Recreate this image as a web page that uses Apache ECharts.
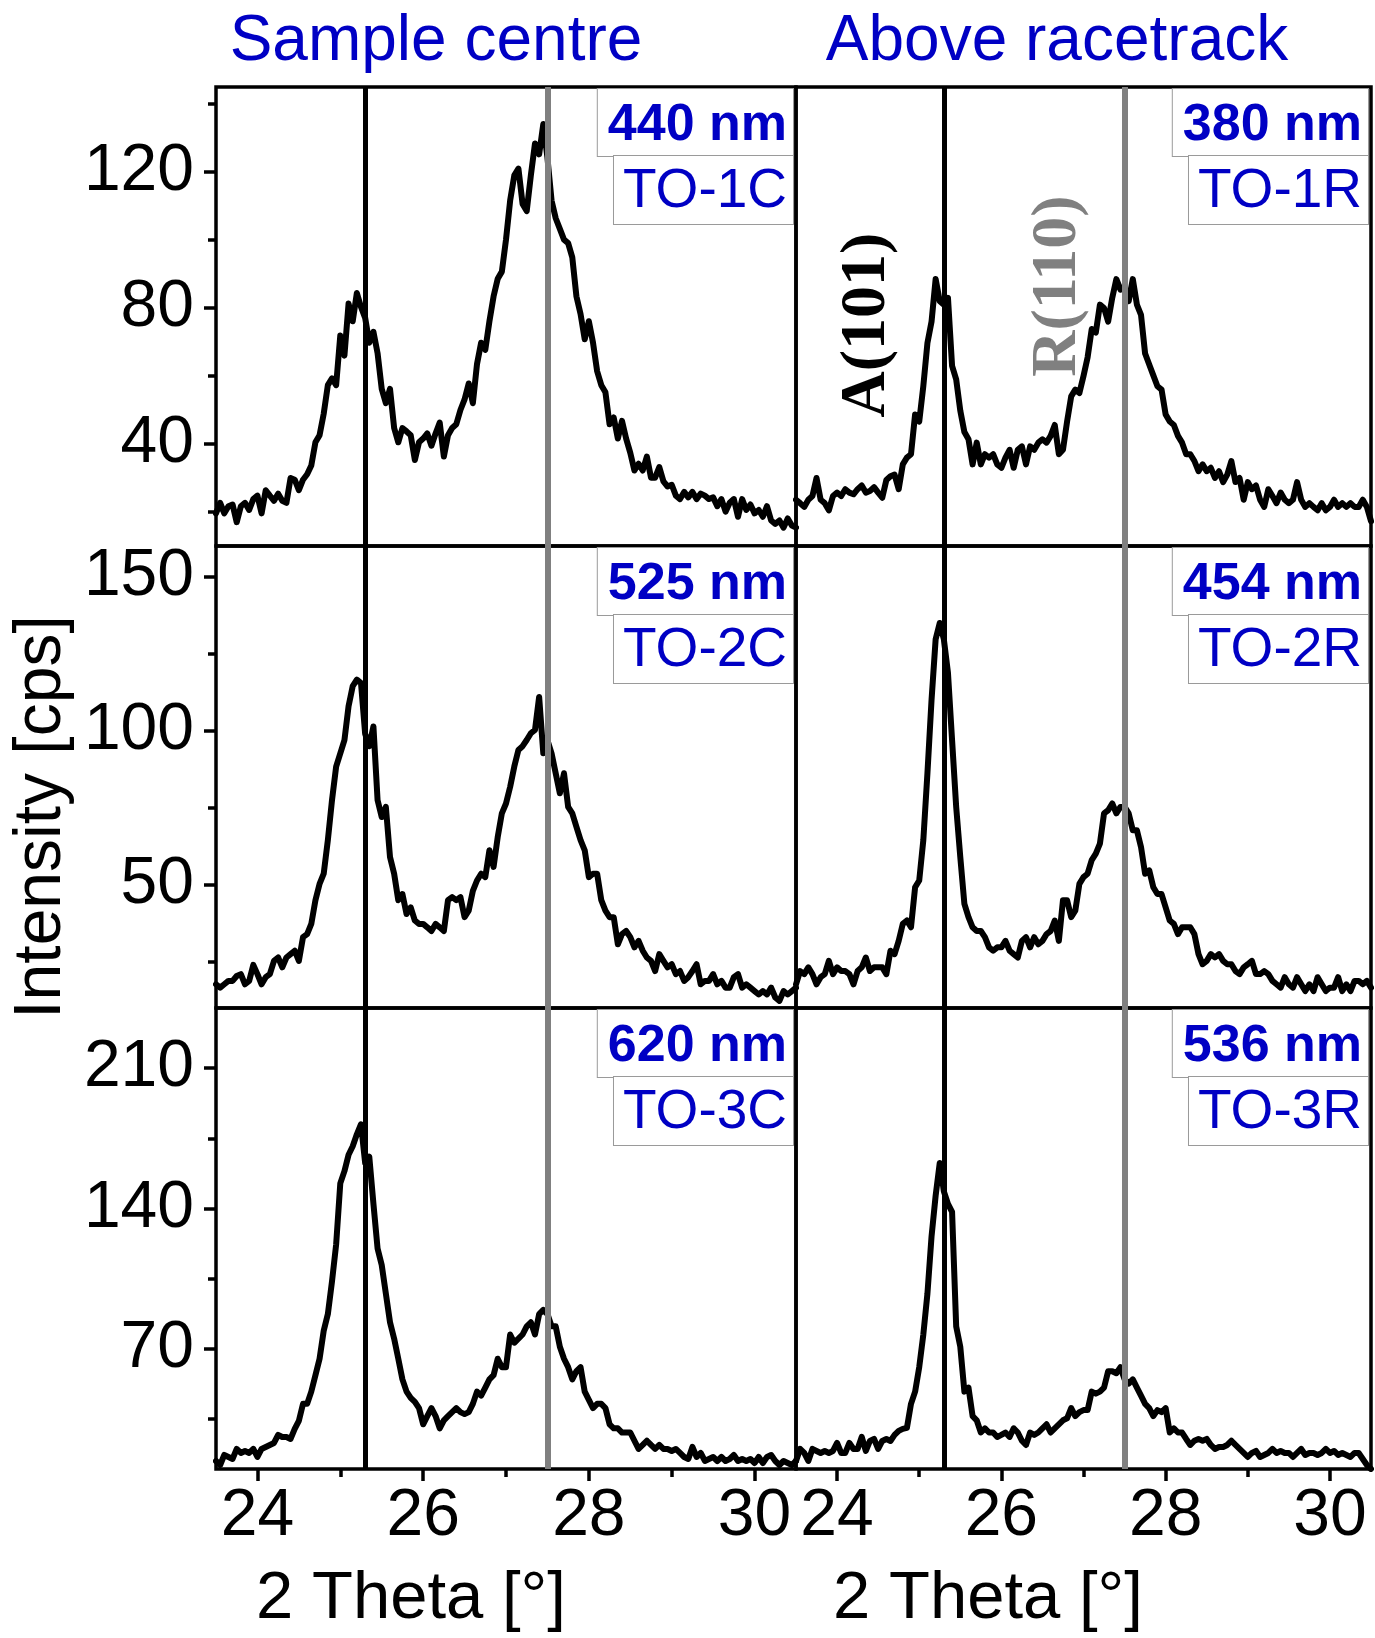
<!DOCTYPE html>
<html>
<head>
<meta charset="utf-8">
<title>XRD patterns TO-1..3, centre vs racetrack</title>
<script src="https://cdn.jsdelivr.net/npm/echarts@6/dist/echarts.min.js"></script>
<style>
  html, body { margin: 0; padding: 0; background: #fff; }
  #chart { width: 1375px; height: 1638px; }
</style>
</head>
<body>
<div id="chart"></div>
<script>
// Scan grid: 2 Theta from 23.5 deg in 0.05 deg steps (141 points per scan)
const THETA_START = 23.5;
const THETA_STEP = 0.05;

// Intensity [cps] per scan
const to1C = [
  19.6, 22.7, 19.6, 21.7, 22.2, 17.0, 21.7, 22.7, 20.6, 23.8,
  24.8, 19.6, 26.4, 24.8, 23.3, 25.4, 23.3, 22.7, 30.0, 29.5,
  26.4, 29.5, 31.1, 33.7, 40.5, 42.6, 48.9, 57.3, 59.3, 57.3,
  71.9, 66.0, 81.3, 76.1, 84.4, 80.3, 77.1, 69.8, 73.0, 66.7,
  56.2, 52.0, 56.2, 44.7, 40.5, 44.7, 43.7, 42.6, 35.3, 40.5,
  41.6, 43.1, 39.5, 43.1, 46.3, 36.3, 42.6, 44.7, 45.8, 50.0,
  53.1, 57.8, 52.0, 63.5, 69.8, 67.7, 76.1, 83.4, 88.6, 90.7,
  100.1, 111.6, 119.0, 121.0, 110.6, 108.5, 119.0, 128.4, 125.2, 134.1,
  124.2, 111.6, 106.4, 103.3, 100.1, 99.1, 94.9, 83.4, 78.2, 70.8,
  76.1, 69.8, 61.4, 57.3, 55.2, 45.8, 47.8, 41.6, 46.8, 41.6,
  37.4, 32.2, 34.2, 32.2, 36.3, 30.1, 30.1, 33.2, 29.0, 27.5,
  28.0, 24.8, 23.8, 25.9, 24.3, 25.9, 23.8, 25.4, 24.8, 23.8,
  24.3, 21.7, 23.8, 20.1, 22.7, 23.8, 18.6, 23.8, 20.6, 22.2,
  19.6, 20.6, 18.6, 21.7, 17.5, 16.5, 17.5, 15.4, 18.1, 16.0, 15.4
];
const to1R = [
  23.6, 22.6, 21.5, 23.6, 24.7, 30.0, 23.6, 22.6, 20.5, 24.7,
  25.7, 24.7, 26.7, 25.7, 25.2, 26.7, 27.8, 25.7, 26.2, 27.3,
  25.7, 24.2, 29.4, 30.5, 31.0, 26.7, 34.0, 36.0, 37.0, 48.7,
  46.6, 57.0, 69.7, 76.0, 88.5, 82.0, 81.0, 83.0, 63.0, 59.0,
  49.8, 43.5, 41.4, 34.0, 40.4, 34.0, 37.0, 36.0, 37.0, 34.0,
  33.0, 36.0, 38.3, 33.0, 38.3, 39.3, 34.0, 39.3, 38.3, 40.4,
  41.4, 40.4, 42.4, 45.6, 37.0, 38.3, 46.6, 54.0, 56.0, 55.0,
  60.0, 65.5, 73.8, 72.8, 81.0, 80.0, 76.0, 83.0, 88.5, 85.4,
  86.4, 82.0, 88.5, 81.0, 78.0, 66.6, 63.4, 60.2, 57.0, 56.0,
  48.7, 46.6, 45.6, 42.4, 40.4, 37.0, 37.0, 35.0, 32.0, 34.0,
  32.0, 33.0, 30.0, 32.0, 28.8, 31.0, 35.0, 28.8, 30.0, 23.6,
  28.8, 26.7, 27.8, 23.6, 21.5, 26.7, 24.7, 22.6, 25.7, 23.6,
  22.6, 23.6, 28.8, 23.6, 21.5, 22.6, 21.5, 20.5, 22.6, 20.5,
  21.5, 23.6, 21.5, 22.6, 21.5, 22.6, 21.5, 21.5, 23.6, 21.5, 17.3
];
const to2C = [
  17.7, 16.6, 17.7, 18.8, 18.8, 20.4, 21.0, 17.7, 18.8, 24.0,
  21.0, 17.7, 20.0, 21.0, 25.3, 26.4, 23.2, 26.4, 27.5, 28.6,
  25.3, 33.0, 34.0, 37.3, 45.0, 50.3, 53.6, 64.5, 77.5, 88.4,
  92.7, 97.0, 108.0, 114.5, 116.6, 115.5, 99.0, 95.0, 101.4, 77.5,
  72.0, 75.3, 59.0, 53.6, 45.0, 47.0, 40.5, 42.7, 38.4, 37.3,
  37.3, 36.2, 35.0, 37.3, 36.2, 35.0, 45.0, 46.0, 45.0, 46.0,
  39.5, 41.6, 48.0, 51.4, 53.6, 52.5, 61.2, 55.8, 65.5, 73.2,
  76.4, 81.8, 88.4, 93.8, 95.0, 97.0, 99.2, 100.3, 111.0, 92.7,
  97.0, 92.7, 86.2, 79.7, 86.2, 75.3, 73.2, 68.8, 64.5, 61.2,
  52.5, 53.6, 53.6, 45.0, 41.6, 39.5, 39.5, 30.7, 34.0, 35.0,
  33.0, 29.7, 31.8, 28.6, 26.4, 25.3, 22.0, 27.5, 25.3, 23.2,
  24.2, 21.0, 22.0, 18.8, 20.0, 22.0, 24.2, 17.7, 18.8, 18.8,
  21.0, 17.7, 18.8, 16.6, 16.6, 20.0, 21.0, 16.6, 17.7, 16.6,
  15.5, 14.4, 15.5, 14.4, 16.6, 13.4, 12.3, 15.5, 14.4, 15.5, 16.6
];
const to2R = [
  17.7, 22.0, 21.0, 23.2, 21.0, 17.7, 20.0, 21.0, 25.3, 21.0,
  23.2, 22.0, 22.0, 21.0, 17.7, 22.0, 23.2, 26.4, 22.0, 23.2,
  23.2, 23.2, 21.0, 28.6, 27.5, 31.8, 37.3, 38.4, 36.2, 49.2,
  51.4, 64.5, 86.2, 110.0, 129.7, 135.0, 129.7, 118.8, 97.0, 75.3,
  59.0, 43.8, 39.5, 36.2, 35.0, 35.0, 33.0, 29.7, 28.6, 29.7,
  29.7, 31.8, 28.6, 27.5, 26.4, 31.8, 33.0, 29.7, 33.0, 30.7,
  31.8, 34.0, 35.0, 38.4, 31.8, 45.0, 45.0, 39.5, 41.6, 50.3,
  52.5, 53.6, 58.0, 60.1, 63.4, 73.2, 74.2, 76.4, 73.2, 75.3,
  75.3, 73.2, 67.7, 67.7, 62.3, 53.6, 54.7, 49.2, 47.0, 47.0,
  42.7, 38.4, 37.3, 34.0, 36.2, 36.2, 36.2, 34.0, 27.5, 24.2,
  25.3, 27.5, 26.4, 27.5, 25.3, 24.2, 24.2, 22.0, 21.0, 23.2,
  24.2, 25.3, 21.0, 21.0, 22.0, 21.0, 18.8, 17.7, 16.6, 20.0,
  17.7, 16.6, 20.0, 17.7, 15.5, 17.7, 15.5, 20.0, 17.7, 15.5,
  16.6, 16.6, 20.0, 15.5, 17.7, 15.5, 18.8, 18.8, 17.7, 18.8, 16.6
];
const to3C = [
  14, 12, 17, 16, 15, 20, 18, 19, 18, 20,
  16, 20, 21, 22, 23, 27, 26, 26, 25, 30,
  34, 42.5, 42.5, 48.6, 56.8, 65, 79, 87.3, 103.6, 122,
  152.5, 158.6, 166.8, 171, 177, 182, 162.7, 165.8, 142.3, 120,
  111.8, 97.5, 83.2, 75, 65, 54.7, 48.6, 45.5, 43.5, 40.4,
  32.3, 36.4, 40.4, 36.4, 30.3, 34.3, 36.4, 38.4, 40.4, 38.4,
  37.4, 38.4, 42.5, 48.6, 46.6, 50.6, 54.7, 56.8, 65, 60.8,
  60.8, 77.1, 73, 75, 77.1, 81.2, 83.2, 77.1, 87.3, 89.4,
  87.3, 81.2, 81.2, 71, 65, 60.8, 54.7, 58.8, 60.8, 48.6,
  44.5, 40.4, 42.5, 42.5, 40.4, 32.3, 30.3, 30.3, 28.2, 28.2,
  28.2, 24.1, 20, 22, 24.1, 22, 20, 22, 20, 20,
  19, 20, 18, 16, 15, 21, 16, 18, 14, 15,
  16, 14, 16, 14, 15, 17, 14, 15, 14, 15,
  13, 16, 13, 16, 17, 14, 12, 14, 13, 12, 14
];
const to3R = [
  14, 20, 18, 14, 20, 19, 18, 19, 18, 19,
  23, 18, 18, 23, 20, 20, 26, 19, 24, 25,
  20, 24, 25, 24, 27, 29, 30, 30.5, 42.5, 48.6,
  60.8, 77.1, 97.5, 126, 146.4, 162.7, 148.5, 142.3, 138.3, 81.2,
  71, 48.6, 50.6, 36.4, 34.3, 28.2, 30.3, 28.2, 28.2, 26,
  27, 28.2, 26, 30.3, 28.2, 24.1, 22, 28.2, 27, 28.2,
  30.3, 32.3, 28.2, 30.3, 32.3, 34.3, 35.3, 40.4, 36.4, 38.4,
  39.4, 39.4, 48.6, 47.6, 48.6, 50.6, 58.8, 58.8, 57.8, 60.8,
  54.7, 52.6, 54.7, 50.6, 46.6, 42.5, 40.4, 36.4, 39.4, 38.4,
  40.4, 28.2, 30.3, 28.2, 28.2, 25, 22, 24.1, 25, 24.1,
  25, 22, 20, 21, 21, 22, 24.1, 22, 20, 18,
  16, 18, 19, 16, 17, 18, 20, 18, 19, 18,
  18, 16, 18, 20, 17, 18, 18, 17, 18, 20,
  18, 19, 17, 18, 17, 16, 18, 18, 15, 12, 10
];

// Panel order: row by row, left column = sample centre, right = above racetrack
const scans = [to1C, to1R, to2C, to2R, to3C, to3R];
const sampleNames = ['TO-1C', 'TO-1R', 'TO-2C', 'TO-2R', 'TO-3C', 'TO-3R'];
const thicknesses = ['440 nm', '380 nm', '525 nm', '454 nm', '620 nm', '536 nm'];
const columnTitles = ['Sample centre', 'Above racetrack'];

// Reflection positions
const anataseA101 = 25.3;
const rutileR110 = 27.5;

// Axis ranges and ticks
const thetaRange = [23.5, 30.5];
const thetaMajor = [24, 26, 28, 30];
const thetaMinor = [25, 27, 29];
const rowYRange = [[10, 145], [10, 160], [10, 240]];
const rowYMajor = [[40, 80, 120], [50, 100, 150], [70, 140, 210]];
const rowYMinor = [[20, 60, 100, 140], [25, 75, 125], [35, 105, 175]];

const theta = to1C.map((_, i) => +(THETA_START + i * THETA_STEP).toFixed(2));

// Layout (px)
const COL_LEFT = [216, 796];
const COL_WIDTH = [580, 575];
const ROW_TOP = [87, 546, 1008];
const ROW_HEIGHT = [459, 462, 461];

const SANS = '"Liberation Sans", Arial, sans-serif';
const SERIF = '"Liberation Serif", "Times New Roman", serif';
const BLUE = '#0000c4';

const grids = [], xAxes = [], yAxes = [], series = [], graphics = [];

for (let p = 0; p < 6; p++) {
  const row = Math.floor(p / 2), col = p % 2;
  const bottomRow = row === 2, leftCol = col === 0;
  grids.push({
    left: COL_LEFT[col], top: ROW_TOP[row], width: COL_WIDTH[col], height: ROW_HEIGHT[row],
    show: true, borderColor: '#000', borderWidth: 3.5, backgroundColor: 'transparent',
    containLabel: false, outerBoundsMode: 'none'
  });
  // main x axis (data)
  const xMain = xAxes.length;
  xAxes.push({
    type: 'value', gridIndex: p, position: 'bottom',
    min: thetaRange[0], max: thetaRange[1],
    show: bottomRow,
    axisLine: { show: false },
    splitLine: { show: false },
    axisTick: { show: true, customValues: thetaMajor, length: 12, lineStyle: { color: '#000', width: 3.5 } },
    axisLabel: { show: true, customValues: thetaMajor, margin: 15, color: '#000', fontSize: 66, fontFamily: SANS }
  });
  if (bottomRow) {
    xAxes.push({
      type: 'value', gridIndex: p, position: 'bottom',
      min: thetaRange[0], max: thetaRange[1],
      axisLine: { show: false }, splitLine: { show: false },
      axisTick: { show: true, customValues: thetaMinor, length: 8, lineStyle: { color: '#000', width: 3.5 } },
      axisLabel: { show: false }
    });
  }
  const yMain = yAxes.length;
  yAxes.push({
    type: 'value', gridIndex: p, position: 'left',
    min: rowYRange[row][0], max: rowYRange[row][1],
    show: leftCol,
    axisLine: { show: false }, splitLine: { show: false },
    axisTick: { show: true, customValues: rowYMajor[row], length: 12, lineStyle: { color: '#000', width: 3.5 } },
    axisLabel: { show: true, customValues: rowYMajor[row], margin: 22, color: '#000', fontSize: 66, fontFamily: SANS }
  });
  if (leftCol) {
    yAxes.push({
      type: 'value', gridIndex: p, position: 'left',
      min: rowYRange[row][0], max: rowYRange[row][1],
      axisLine: { show: false }, splitLine: { show: false },
      axisTick: { show: true, customValues: rowYMinor[row], length: 8, lineStyle: { color: '#000', width: 3.5 } },
      axisLabel: { show: false }
    });
  }

  series.push({
    name: sampleNames[p],
    type: 'line',
    xAxisIndex: xMain, yAxisIndex: yMain,
    data: theta.map((t, i) => [t, scans[p][i]]),
    showSymbol: false, symbol: 'none',
    lineStyle: { color: '#000', width: 6, join: 'round', cap: 'round' },
    silent: true, z: 3,
    markLine: {
      silent: true, symbol: 'none', animation: false,
      label: { show: false },
      emphasis: { disabled: true },
      data: [
        { xAxis: anataseA101, lineStyle: { color: '#000', width: 5, type: 'solid' } },
        { xAxis: rutileR110, lineStyle: { color: '#808080', width: 6, type: 'solid' } }
      ]
    }
  });

  // sample labels (thickness + name), boxed, top-right of each panel
  const right = COL_LEFT[col] + COL_WIDTH[col] - 3;
  graphics.push({
    type: 'text', z: 100, x: right, y: ROW_TOP[row] + 2,
    style: {
      text: thicknesses[p], fill: BLUE,
      font: 'bold 52px ' + SANS, lineHeight: 52,
      align: 'right', verticalAlign: 'top',
      backgroundColor: '#fff', borderColor: '#9a9a9a', borderWidth: 1,
      padding: [11, 6, 4, 10]
    }
  });
  graphics.push({
    type: 'text', z: 100, x: right, y: ROW_TOP[row] + 69,
    style: {
      text: sampleNames[p], fill: BLUE,
      font: '55px ' + SANS, lineHeight: 55,
      align: 'right', verticalAlign: 'top',
      backgroundColor: '#fff', borderColor: '#9a9a9a', borderWidth: 1,
      padding: [8, 6, 5, 9]
    }
  });
}

// column titles
graphics.push({ type: 'text', x: 436, y: 42, style: { text: columnTitles[0], fill: BLUE, font: '64px ' + SANS, align: 'center', verticalAlign: 'middle' } });
graphics.push({ type: 'text', x: 1057, y: 42, style: { text: columnTitles[1], fill: BLUE, font: '64px ' + SANS, align: 'center', verticalAlign: 'middle' } });

// axis titles
graphics.push({ type: 'text', x: 42, y: 817, rotation: Math.PI / 2, style: { text: 'Intensity [cps]', fill: '#000', font: '66px ' + SANS, align: 'center', verticalAlign: 'middle' } });
graphics.push({ type: 'text', x: 411, y: 1600, style: { text: '2 Theta [°]', fill: '#000', font: '67px ' + SANS, align: 'center', verticalAlign: 'middle' } });
graphics.push({ type: 'text', x: 988, y: 1600, style: { text: '2 Theta [°]', fill: '#000', font: '67px ' + SANS, align: 'center', verticalAlign: 'middle' } });

// reflection labels
graphics.push({ type: 'text', x: 867, y: 325, rotation: Math.PI / 2, z: 50, style: { text: 'A(101)', fill: '#000', font: 'bold 64px ' + SERIF, align: 'center', verticalAlign: 'middle' } });
graphics.push({ type: 'text', x: 1058, y: 286, rotation: Math.PI / 2, z: 50, style: { text: 'R(110)', fill: '#808080', font: 'bold 64px ' + SERIF, align: 'center', verticalAlign: 'middle' } });

const chart = echarts.init(document.getElementById('chart'), null, { renderer: 'canvas' });
chart.setOption({
  animation: false,
  backgroundColor: '#fff',
  grid: grids,
  xAxis: xAxes,
  yAxis: yAxes,
  series: series,
  graphic: graphics
});
</script>
</body>
</html>
